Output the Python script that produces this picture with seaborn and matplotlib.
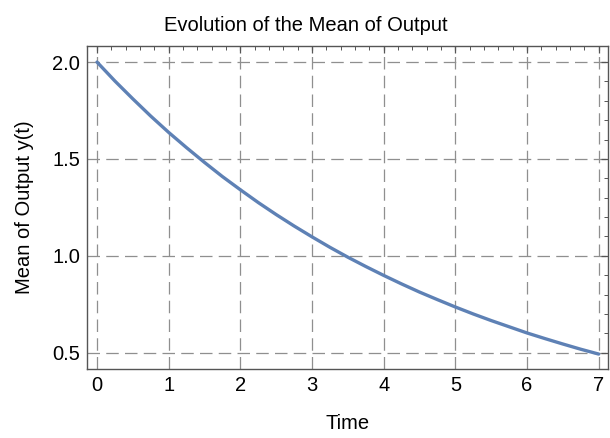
import numpy as np
import pandas as pd
import matplotlib
matplotlib.use("Agg")
import matplotlib.pyplot as plt
import seaborn as sns
from matplotlib.ticker import MultipleLocator, FormatStrFormatter

# values
time = [0.0, 0.25, 0.5, 0.75, 1.0, 1.25, 1.5, 1.75, 2.0, 2.25, 2.5, 2.75, 3.0, 3.25, 3.5,
        3.75, 4.0, 4.25, 4.5, 4.75, 5.0, 5.25, 5.5, 5.75, 6.0, 6.25, 6.5, 6.75, 7.0]
mean_y = [2.000, 1.902, 1.810, 1.721, 1.637, 1.558, 1.482, 1.409, 1.341, 1.275, 1.213,
          1.154, 1.098, 1.044, 0.993, 0.945, 0.899, 0.855, 0.813, 0.774, 0.736, 0.700,
          0.666, 0.634, 0.602, 0.573, 0.545, 0.518, 0.493]

df = pd.DataFrame({"Time": time, "Mean": mean_y})

sns.set_style("white")
plt.rcParams["font.family"] = ["Liberation Sans", "DejaVu Sans"]

fig = plt.figure(figsize=(6.1, 4.38), dpi=100)
ax = fig.add_axes([87 / 610, 1 - 369 / 438, (608 - 87) / 610, (369 - 46) / 438])

sns.lineplot(data=df, x="Time", y="Mean", ax=ax, color="#5E81B5", linewidth=2.4)

ax.set_xlim(-0.14, 7.13)
ax.set_ylim(0.416, 2.083)
ax.xaxis.set_major_locator(MultipleLocator(1))
ax.xaxis.set_minor_locator(MultipleLocator(0.2))
ax.yaxis.set_major_locator(MultipleLocator(0.5))
ax.yaxis.set_minor_locator(MultipleLocator(0.1))
ax.yaxis.set_major_formatter(FormatStrFormatter("%.1f"))

ax.grid(True, which="major", linestyle=(0, (10, 5)), color="#8f8f8f", linewidth=0.9)
ax.tick_params(which="both", direction="in", top=True, right=True, color="#555555",
               labelsize=14.5, labelcolor="black")
ax.tick_params(which="major", length=5, width=0.9, pad=5)
ax.tick_params(which="minor", length=3, width=0.7)
for s in ax.spines.values():
    s.set_color("#555555")
    s.set_linewidth(1.0)

ax.set_xlabel("Time", fontsize=14.5, labelpad=14, color="black")
ax.set_ylabel("Mean of Output y(t)", fontsize=14.5, labelpad=13, color="black")
# title sits centred on the whole picture, not on the plot frame
ax.set_title("Evolution of the Mean of Output", fontsize=14.5, pad=11, color="black", x=0.42)

fig.savefig("out.png", dpi=100)
